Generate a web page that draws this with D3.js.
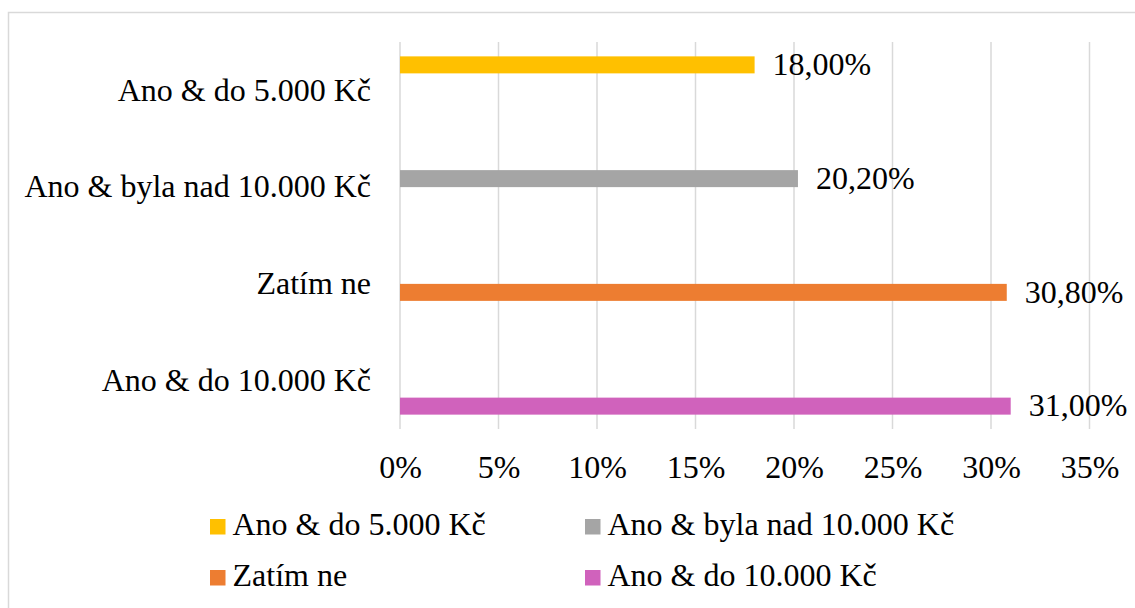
<!DOCTYPE html>
<html>
<head>
<meta charset="utf-8">
<script src="https://cdn.jsdelivr.net/npm/d3@7"></script>
<style>
html,body{margin:0;padding:0;background:#fff;}
svg{display:block;font-family:"Liberation Serif","Times New Roman",serif;}
</style>
</head>
<body>
<svg id="chart" width="1135" height="608"></svg>
<script>
const categories = ["Ano & do 5.000 Kč", "Ano & byla nad 10.000 Kč", "Zatím ne", "Ano & do 10.000 Kč"];
const seriesNames = ["Ano & do 5.000 Kč", "Ano & byla nad 10.000 Kč", "Zatím ne", "Ano & do 10.000 Kč"];
const seriesColors = ["#FFC000", "#A5A5A5", "#ED7D31", "#D062BC"];
// one value per category for each series (null = no bar)
const seriesValues = [
  [18.0, null, null, null],
  [null, 20.2, null, null],
  [null, null, 30.8, null],
  [null, null, null, 31.0]
];
const xTicks = [0, 5, 10, 15, 20, 25, 30, 35];

const svg = d3.select("#chart");
const fontSize = 32;

// outer border
svg.append("rect").attr("x", 8.5).attr("y", 12.5).attr("width", 1200).attr("height", 700)
  .attr("fill", "none").attr("stroke", "#d9d9d9").attr("stroke-width", 1.5);

const plot = {left: 400, right: 1089.5, top: 42, bottom: 429};
const x = d3.scaleLinear().domain([0, 35]).range([plot.left, plot.right]);
const y = d3.scaleBand().domain(categories).range([plot.top, plot.bottom]).paddingInner(0.297).paddingOuter(0.1485);
const ySub = d3.scaleBand().domain(seriesNames).range([0, y.bandwidth()]);

// gridlines
svg.append("g").selectAll("line").data(xTicks).join("line")
  .attr("x1", d => x(d)).attr("x2", d => x(d))
  .attr("y1", plot.top).attr("y2", plot.bottom)
  .attr("stroke", "#d9d9d9").attr("stroke-width", 1.5);

// x axis tick labels
const xAxis = d3.axisBottom(x).tickValues(xTicks).tickFormat(d => d + "%").tickSize(0).tickPadding(0);
const gx = svg.append("g").attr("transform", `translate(0,${plot.bottom})`).call(xAxis);
gx.select(".domain").remove();
gx.selectAll("text").attr("font-size", fontSize).attr("font-family", "Liberation Serif").attr("fill", "#000")
  .attr("dy", null).attr("y", 49);

// y axis category labels
const yAxis = d3.axisLeft(y).tickSize(0).tickPadding(29);
const gy = svg.append("g").attr("transform", `translate(${plot.left},0)`).call(yAxis);
gy.select(".domain").remove();
gy.selectAll("text").attr("font-size", fontSize).attr("font-family", "Liberation Serif").attr("fill", "#000")
  .attr("dy", "0.32em");

// bars
const flat = [];
seriesNames.forEach((s, si) => {
  seriesValues[si].forEach((v, ci) => {
    if (v != null) flat.push({series: s, si, category: categories[ci], value: v});
  });
});
const fmt = v => d3.format(".2f")(v).replace(".", ",") + "%";

svg.append("g").selectAll("rect").data(flat).join("rect")
  .attr("x", x(0))
  .attr("y", d => y(d.category) + ySub(d.series))
  .attr("width", d => x(d.value) - x(0))
  .attr("height", ySub.bandwidth())
  .attr("fill", d => seriesColors[d.si]);

svg.append("g").selectAll("text").data(flat).join("text")
  .attr("x", d => x(d.value) + 18)
  .attr("y", d => y(d.category) + ySub(d.series) + ySub.bandwidth() / 2)
  .attr("dy", "0.32em")
  .attr("font-size", fontSize)
  .attr("fill", "#000")
  .text(d => fmt(d.value));

// legend
const legendPos = [[210, 519], [585, 519], [210, 570], [585, 570]];
const lg = svg.append("g").selectAll("g").data(seriesNames).join("g")
  .attr("transform", (d, i) => `translate(${legendPos[i][0]},${legendPos[i][1]})`);
lg.append("rect").attr("width", 15.5).attr("height", 15.5).attr("fill", (d, i) => seriesColors[i]);
lg.append("text").attr("x", 22.5).attr("y", 16).attr("font-size", fontSize).attr("fill", "#000").text(d => d);
</script>
</body>
</html>
